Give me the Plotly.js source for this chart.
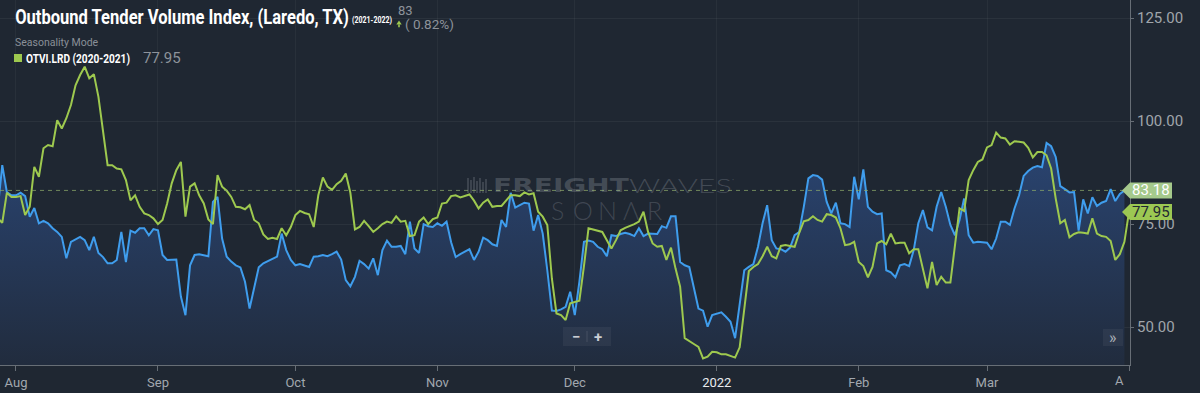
<!DOCTYPE html>
<html>
<head>
<meta charset="utf-8">
<script src="https://cdn.plot.ly/plotly-3.0.1.min.js"></script>
<style>
html,body{margin:0;padding:0;background:#1f2732;}
#chart{width:1200px;height:393px;}
</style>
</head>
<body>
<div id="chart"></div>
<script>
// ---------- DATA ----------
const startDate = '2021-07-28';
// OTVI.LRD 2021-2022 (blue, area) : Jul 28 2021 -> Mar 31 2022
const otvi2122 = [
  78.4, 89.3, 82.8, 82.0,
  82.0, 82.6, 81.8, 76.8, 78.9, 75.2, 75.8, 75.2, 74.0, 73.1, 71.9, 66.7, 70.7, 71.4, 71.9, 71.1,
  68.7, 71.9, 68.0, 67.0, 65.5, 65.5, 66.3, 73.1, 65.8, 73.4, 72.9, 74.0, 74.0, 72.3, 73.8,
  73.5, 67.5, 66.3, 66.3, 66.4, 57.4, 52.9, 65.0, 67.5, 67.7, 67.5, 67.2, 80.4, 81.6, 71.5,
  67.1, 65.9, 65.0, 64.5, 61.0, 54.5, 59.8, 64.5, 65.5, 66.0, 66.6, 67.1, 72.7, 68.7, 66.3,
  65.0, 65.3, 65.0, 64.6, 67.1, 67.2, 67.5, 67.2, 67.7, 68.3, 66.4, 61.4, 59.9, 62.2, 66.1, 65.3,
  64.2, 66.7, 62.6, 68.7, 71.0, 69.5, 69.5, 69.7, 67.7, 75.6, 69.1, 68.0, 75.0, 74.5, 74.3,
  75.2, 74.6, 75.6, 70.6, 67.0, 67.7, 68.4, 68.9, 66.3, 68.3, 71.7, 71.1, 70.1, 69.7, 76.0,
  74.3, 82.6, 79.0, 79.6, 80.2, 80.0, 73.4, 77.2, 72.7, 63.8, 54.0, 53.9, 54.3, 54.9, 58.6,
  52.9, 61.0, 70.7, 71.0, 70.7, 69.5, 68.9, 67.2, 72.3, 72.1, 72.6, 72.9, 72.6, 72.1, 74.0, 72.1,
  72.7, 72.7, 72.6, 74.5, 74.1, 76.9, 76.9, 65.8, 65.0, 64.6, 59.8, 54.5, 54.0, 50.1, 52.9,
  53.3, 53.6, 52.5, 51.3, 47.3, 55.8, 63.8, 64.6, 65.3, 69.5, 75.2, 79.6, 71.1, 69.1, 68.9, 68.3,
  69.3, 72.3, 73.1, 79.2, 86.1, 86.9, 86.7, 85.8, 80.4, 77.6, 80.2, 75.2, 75.0, 74.3, 86.5,
  81.0, 88.3, 79.2, 78.0, 77.4, 77.6, 63.8, 63.3, 62.1, 65.0, 65.3, 64.8, 68.7, 75.2, 78.4,
  74.2, 73.5, 79.2, 82.8, 79.2, 74.8, 72.3, 76.0, 81.2, 72.3, 70.5, 70.7, 70.6,
  70.5, 68.9, 71.5, 75.6, 75.6, 74.8, 78.8, 82.0, 86.7, 87.9, 88.7, 89.1, 88.8, 94.7, 93.9, 91.3,
  84.2, 83.5, 82.7, 82.8, 73.4, 81.0, 77.6, 81.5, 79.4, 80.2, 80.6, 83.5, 80.6, 82.3, 83.18
];
// OTVI.LRD 2020-2021 (green, seasonality) : Jul 28 -> Apr 1
const otvi2021 = [
  76.5, 75.3, 82.6, 81.6,
  81.6, 81.8, 77.2, 79.2, 88.9, 86.5, 93.4, 94.2, 93.9, 100.2, 98.2, 100.7, 103.9, 108.7, 111.2, 113.2,
  110.4, 111.4, 105.9, 97.8, 89.3, 89.3, 88.5, 88.3, 85.7, 80.8, 82.0, 79.2, 77.6, 77.2, 76.4,
  75.0, 76.0, 80.0, 84.9, 88.1, 90.1, 76.8, 84.1, 84.9, 82.0, 80.0, 76.1, 75.0, 86.9, 84.1,
  83.1, 81.6, 79.2, 79.1, 78.6, 79.6, 76.0, 75.2, 72.5, 71.4, 71.7, 71.4, 74.0, 72.3, 74.3,
  77.2, 78.2, 77.7, 77.4, 74.3, 82.0, 86.3, 84.1, 83.3, 84.7, 85.5, 87.3, 82.6, 73.7, 74.3, 75.8,
  74.5, 73.1, 74.0, 75.0, 75.6, 75.3, 76.9, 75.6, 75.8, 72.1, 72.3, 75.6, 76.6, 75.0, 76.2,
  76.6, 80.0, 80.2, 81.8, 82.0, 81.5, 81.8, 82.2, 80.7, 78.8, 80.2, 81.0, 79.2, 79.4, 79.4,
  80.8, 82.0, 82.0, 81.8, 82.7, 82.2, 82.5, 78.0, 76.8, 74.8, 61.8, 53.3, 52.9, 51.7, 55.8,
  56.1, 56.4, 64.8, 74.0, 73.7, 73.4, 73.1, 71.1, 69.1, 71.1, 73.5, 74.1, 74.5, 75.0, 75.6, 78.0,
  73.1, 70.3, 69.5, 69.7, 66.3, 69.3, 64.2, 59.8, 47.3, 46.7, 45.9, 45.2, 42.4, 42.8, 44.0,
  43.9, 43.4, 43.4, 43.0, 42.6, 45.1, 54.5, 63.6, 64.6, 65.3, 67.2, 69.5, 67.2, 66.7, 69.7, 69.9,
  69.7, 69.5, 72.9, 75.7, 76.0, 76.9, 76.0, 75.6, 77.4, 77.2, 76.6, 74.0, 69.9, 70.1, 70.7,
  65.8, 64.8, 62.1, 64.6, 70.3, 70.9, 70.1, 72.7, 70.3, 70.5, 70.5, 67.9, 68.9, 68.9, 64.2,
  59.4, 65.8, 60.2, 62.2, 60.8, 60.8, 69.5, 78.8, 78.2, 85.7, 88.1, 90.1, 90.7,
  93.6, 94.2, 97.2, 96.0, 95.8, 94.3, 95.1, 95.0, 94.8, 93.5, 91.2, 92.5, 92.5, 91.7, 88.5, 81.2,
  75.2, 76.0, 71.8, 72.6, 73.0, 72.9, 72.7, 76.4, 72.7, 72.1, 71.9, 70.9, 66.3, 67.7, 70.7,
  77.95
];
const tickDates  = ['2021-08-01','2021-09-01','2021-10-01','2021-11-01','2021-12-01','2022-01-01','2022-02-01','2022-03-01','2022-04-01'];
const tickLabels = ['Aug','Sep','Oct','Nov','Dec','<span style="fill:#e9ecef">2022</span>','Feb','Mar',''];
const yTicks = [50, 75, 100, 125];
const lastCurrent = 83.18, lastSeason = 77.95, changeAbs = 83, changePct = '0.82%';
const titleText = 'Outbound Tender Volume Index, (Laredo, TX)';
const titleYears = '(2021-2022)';
const seriesLabel = 'OTVI.LRD (2020-2021)';

// ---------- HELPERS ----------
function dayList(start, n){
  const out = []; const d0 = new Date(start + 'T00:00:00Z');
  for (let i = 0; i < n; i++){ const d = new Date(d0.getTime() + i*86400000); out.push(d.toISOString().slice(0,10)); }
  return out;
}
const datesA = dayList(startDate, otvi2122.length);
const datesB = dayList(startDate, otvi2021.length);

const Y_MIN = 40.8, Y_MAX = 129.4;
const PW = 1130, PH = 365;                 // plot area in px
const px = x => x / PW;                   // px -> paper x
const py = y => 1 - y / PH;               // px -> paper y
const vy = v => (v - Y_MIN) / (Y_MAX - Y_MIN); // value -> paper y

const BLUE = '#3f9ded', GREEN = '#9ec94f', GRAY = '#8d939b';

const traces = [
  {x: datesA, y: otvi2122, type:'scatter', mode:'lines', fill:'tozeroy',
   line:{color:BLUE, width:2},
   fillgradient:{type:'vertical', start:41, stop:96, colorscale:[[0,'#212c3e'],[1,'#2a4573']]},
   hoverinfo:'skip'},
  {x: datesB, y: otvi2021, type:'scatter', mode:'lines', line:{color:GREEN, width:2}, hoverinfo:'skip'}
];

const ann = [];
const shapes = [];
const fits = [];   // [text, targetWidth]
function txt(x, y, text, size, color, opts){
  ann.push(Object.assign({xref:'paper', yref:'paper', x:px(x), y:py(y), text:text, showarrow:false,
    xanchor:'left', yanchor:'middle', font:{family:'Roboto', size:size, color:color}}, opts||{}));
}
// header
txt(13, 17, '<b>' + titleText + '</b>', 20, '#ffffff'); fits.push([titleText, 334]);
txt(350, 20, '<b>' + titleYears + '</b>', 9, '#ffffff'); fits.push([titleYears, 40]);
txt(396, 11, String(changeAbs), 13, GRAY);
txt(403, 24, '( ' + changePct + ')', 13.5, GRAY);
shapes.push({type:'path', xref:'paper', yref:'paper', fillcolor:GREEN, line:{width:0},
  path:`M ${px(396.3)} ${py(24.5)} L ${px(399)} ${py(20.5)} L ${px(401.7)} ${py(24.5)} Z`});
shapes.push({type:'rect', xref:'paper', yref:'paper', x0:px(398.2), x1:px(399.8), y0:py(24.5), y1:py(27.3), fillcolor:GREEN, line:{width:0}});
txt(13, 43, 'Seasonality Mode', 10.5, '#8a9098');
txt(24, 58, '<b>' + seriesLabel + '</b>', 12.5, '#ffffff'); fits.push([seriesLabel, 104]);
txt(141, 58, lastSeason.toFixed(2), 15, GRAY);
shapes.push({type:'rect', xref:'paper', yref:'paper', x0:px(14), x1:px(22), y0:py(54), y1:py(62), fillcolor:GREEN, line:{width:0}});

// watermark
const wmColor = 'rgba(200,205,212,0.22)';
txt(491, 185, '<b>FREIGHT</b>', 19, wmColor, {font:{family:'DejaVu Sans', size:19, color:wmColor}}); fits.push(['FREIGHT', 136]);
txt(627, 185, 'WAVES', 20, wmColor, {font:{family:'Lato', weight:300, size:20, color:wmColor}}); fits.push(['WAVES', 103]);
txt(730, 179, '·', 8, wmColor, {font:{family:'Lato', size:8, color:wmColor}});
const so = [['S',557],['O',583],['N',607],['Λ',631],['R',654]];
so.forEach(([c,x]) => txt(x, 210, c, 25, 'rgba(200,205,212,0.2)', {xanchor:'center', font:{family:'Lato', weight:300, size:25, color:'rgba(200,205,212,0.2)'}}));
[[468,178,193],[471,180,193],[474,177,193],[477,181,193],[480,178,193],[483,182,193],[486,179,193]].forEach(([x,a,b]) =>
  shapes.push({type:'line', xref:'paper', yref:'paper', x0:px(x), x1:px(x), y0:py(a), y1:py(b), line:{color:wmColor, width:1.6}}));

// zoom buttons
shapes.push({type:'rect', xref:'paper', yref:'paper', x0:px(563), x1:px(611), y0:py(327), y1:py(346), fillcolor:'rgba(255,255,255,0.05)', line:{width:0}});
shapes.push({type:'line', xref:'paper', yref:'paper', x0:px(587), x1:px(587), y0:py(331), y1:py(342), line:{color:'rgba(255,255,255,0.12)', width:1}});
txt(576, 337, '<b>−</b>', 15, '#c9cdd3', {xanchor:'center'});
txt(598, 337, '<b>+</b>', 15, '#c9cdd3', {xanchor:'center'});
shapes.push({type:'rect', xref:'paper', yref:'paper', x0:px(1103), x1:px(1123), y0:py(329), y1:py(346), fillcolor:'rgba(255,255,255,0.05)', line:{width:0}});
txt(1113, 337, '»', 16, '#aeb3ba', {xanchor:'center'});

// clipped "Apr" label
txt(1126, 380, 'A', 13, '#a2a8af', {xanchor:'right'});

// last-value dashed line
shapes.push({type:'line', xref:'paper', yref:'y', x0:0, x1:1, y0:lastCurrent, y1:lastCurrent,
  line:{color:'rgba(140,170,105,0.75)', width:1, dash:'4px,4px'}, layer:'above'});

// right value tags
function tag(v, bg, fg){
  const yc = vy(v), h = 8/PH;
  const xt = px(1122), xb = px(1130), xr = px(1172);
  shapes.push({type:'path', xref:'paper', yref:'paper', fillcolor:bg, line:{width:0}, layer:'above',
    path:`M ${xt} ${yc} L ${xb} ${yc+h} L ${xr} ${yc+h} L ${xr} ${yc-h} L ${xb} ${yc-h} Z`});
  ann.push({xref:'paper', yref:'paper', x:px(1151), y:yc, text:v.toFixed(2), showarrow:false,
    xanchor:'center', yanchor:'middle', font:{family:'Roboto', size:15, color:fg}});
}
tag(lastCurrent, '#a5c98c', '#ffffff');
tag(lastSeason, '#9cc853', '#1f2732');

const layout = {
  width:1200, height:393,
  margin:{l:0, r:70, t:0, b:28, pad:0},
  paper_bgcolor:'#1f2732', plot_bgcolor:'#1f2732',
  showlegend:false,
  xaxis:{type:'date', range:['2021-07-28 12:13','2022-04-01 05:14'],
    tickmode:'array', tickvals:tickDates, ticktext:tickLabels,
    showgrid:true, gridcolor:'rgba(255,255,255,0.045)', zeroline:false,
    showline:true, linecolor:'#676e76', linewidth:1,
    ticks:'outside', ticklen:5, tickcolor:'#676e76',
    tickfont:{family:'Roboto', size:13, color:'#a2a8af'}},
  yaxis:{range:[Y_MIN, Y_MAX], side:'right', tickmode:'array', tickvals:yTicks,
    ticktext:yTicks.map(v => v.toFixed(2)),
    showgrid:true, gridcolor:'rgba(255,255,255,0.05)', zeroline:false,
    showline:true, linecolor:'#676e76', linewidth:1,
    ticks:'outside', ticklen:3, tickcolor:'#676e76',
    tickfont:{family:'Roboto', size:15, color:'#a0a5ab'}},
  annotations:ann, shapes:shapes
};
Plotly.newPlot('chart', traces, layout, {staticPlot:true, displayModeBar:false}).then(() => {
  // horizontally condense / extend some texts to match the reference typeface widths
  const nodes = document.querySelectorAll('#chart .annotation-text');
  fits.forEach(([s, w]) => {
    nodes.forEach(t => {
      if (t.textContent === s) {
        const bw = t.getBBox().width;
        if (bw > 0) {
          t.style.transformBox = 'fill-box';
          t.style.transformOrigin = 'left center';
          t.style.transform = 'scaleX(' + (w / bw).toFixed(4) + ')';
        }
      }
    });
  });
});
</script>
</body>
</html>
